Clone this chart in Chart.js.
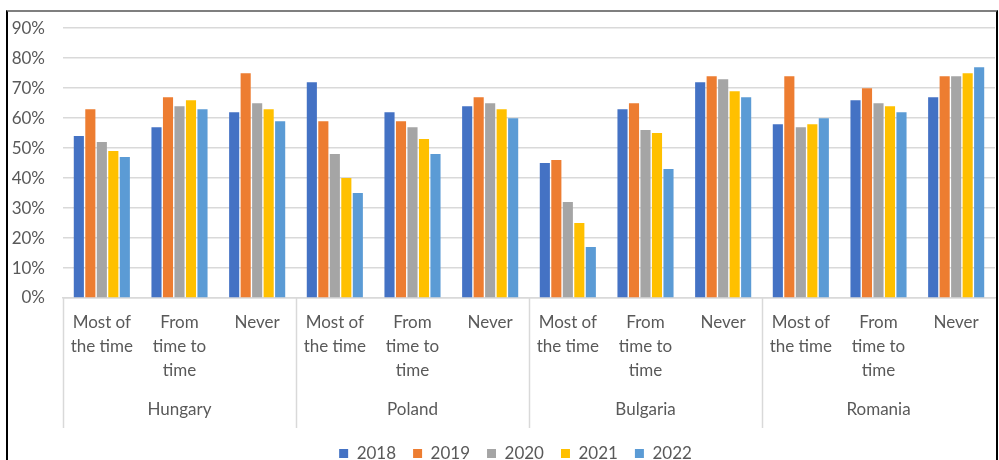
<!DOCTYPE html>
<html>
<head>
<meta charset="utf-8">
<script src="https://cdn.jsdelivr.net/npm/chart.js@4.4.0/dist/chart.umd.min.js"></script>
<style>
  html, body { margin: 0; padding: 0; width: 999px; height: 460px; overflow: hidden; background: #fff; }
  #wrap { position: relative; width: 999px; height: 460px; overflow: hidden; }
  #frame { position: absolute; left: 6px; top: 10px; width: 988px; height: 470px;
           border-top: 2px solid #7f7f7f; border-left: 2px solid #000; border-right: 2px solid #000; }
  canvas { position: absolute; left: 0; top: 0; }
</style>
</head>
<body>
<div id="wrap">
  <div id="frame"></div>
  <canvas id="barChart" width="999" height="472"></canvas>
</div>
<script>
  // countries and answers make up the two-level category axis
  const countries = ['Hungary', 'Poland', 'Bulgaria', 'Romania'];
  const answers = [['Most of', 'the time'], ['From', 'time to', 'time'], ['Never']];
  const years = ['2018', '2019', '2020', '2021', '2022'];
  const yTicks = [0, 10, 20, 30, 40, 50, 60, 70, 80, 90];

  // share per answer, in country order (Hungary, Poland, Bulgaria, Romania)
  const v2018 = [54, 57, 62, 72, 62, 64, 45, 63, 72, 58, 66, 67];
  const v2019 = [63, 67, 75, 59, 59, 67, 46, 65, 74, 74, 70, 74];
  const v2020 = [52, 64, 65, 48, 57, 65, 32, 56, 73, 57, 65, 74];
  const v2021 = [49, 66, 63, 40, 53, 63, 25, 55, 69, 58, 64, 75];
  const v2022 = [47, 63, 59, 35, 48, 60, 17, 43, 67, 60, 62, 77];

  const colors = ['#4472C4', '#ED7D31', '#A5A5A5', '#FFC000', '#5B9BD5'];
  const series = [v2018, v2019, v2020, v2021, v2022];

  const labels = [];
  countries.forEach(function () {
    answers.forEach(function (a) { labels.push(a); });
  });

  const datasets = years.map(function (y, i) {
    return {
      label: y,
      data: series[i],
      backgroundColor: colors[i],
      borderWidth: 0,
      xAxisID: 'x',
      categoryPercentage: 0.74,
      barPercentage: 0.88
    };
  });

  const textColor = '#595959';
  const gridColor = '#d9d9d9';
  const font = { family: 'Lato', size: 17 };

  // vertical separators between the country groups, below the plot
  const groupLines = {
    id: 'groupLines',
    afterLayout(chart) {
      // centre the legend under the plot area rather than the whole canvas
      const shift = 18;
      chart.legend.left += shift;
      chart.legend.right += shift;
    },
    afterDraw(chart) {
      const x = chart.scales.x, x2 = chart.scales.x2;
      const ctx = chart.ctx;
      ctx.save();
      ctx.strokeStyle = gridColor;
      ctx.lineWidth = 1.5;
      for (let k = 0; k < countries.length; k++) {
        const px = Math.round(x.getPixelForValue(k * answers.length - 0.5)) + 0.5;
        ctx.beginPath();
        ctx.moveTo(px, chart.chartArea.bottom);
        ctx.lineTo(px, x2.bottom);
        ctx.stroke();
      }
      ctx.restore();
    }
  };

  new Chart(document.getElementById('barChart').getContext('2d'), {
    type: 'bar',
    data: { labels: labels, datasets: datasets },
    plugins: [groupLines],
    options: {
      responsive: false,
      animation: false,
      layout: { padding: { left: 0, right: 4, top: 16, bottom: 0 } },
      plugins: {
        tooltip: { enabled: false },
        legend: {
          position: 'bottom',
          labels: { boxWidth: 9, boxHeight: 9, padding: 17, color: textColor, font: font }
        }
      },
      scales: {
        y: {
          min: 0,
          max: 90,
          afterBuildTicks(scale) { scale.ticks = yTicks.map(function (v) { return { value: v }; }); },
          afterFit(scale) { scale.width = 63; },
          ticks: { padding: 18, color: textColor, font: font, callback: function (v) { return v + '%'; } },
          grid: { color: gridColor, lineWidth: 1.5, drawTicks: false },
          border: { display: false }
        },
        x: {
          weight: 0,
          offset: true,
          afterFit(scale) { scale.height = 93; },
          ticks: { autoSkip: false, maxRotation: 0, padding: 5, color: textColor,
                   font: { family: 'Lato', size: 17, lineHeight: 1.41 } },
          grid: { display: false },
          border: { display: true, color: gridColor, width: 1.5 }
        },
        x2: {
          type: 'category',
          position: 'bottom',
          weight: 1,
          labels: countries,
          offset: true,
          afterFit(scale) { scale.height = 37; },
          ticks: { padding: 8, color: textColor, font: font },
          grid: { display: false, drawTicks: false },
          border: { display: false }
        }
      }
    }
  });
</script>
</body>
</html>
